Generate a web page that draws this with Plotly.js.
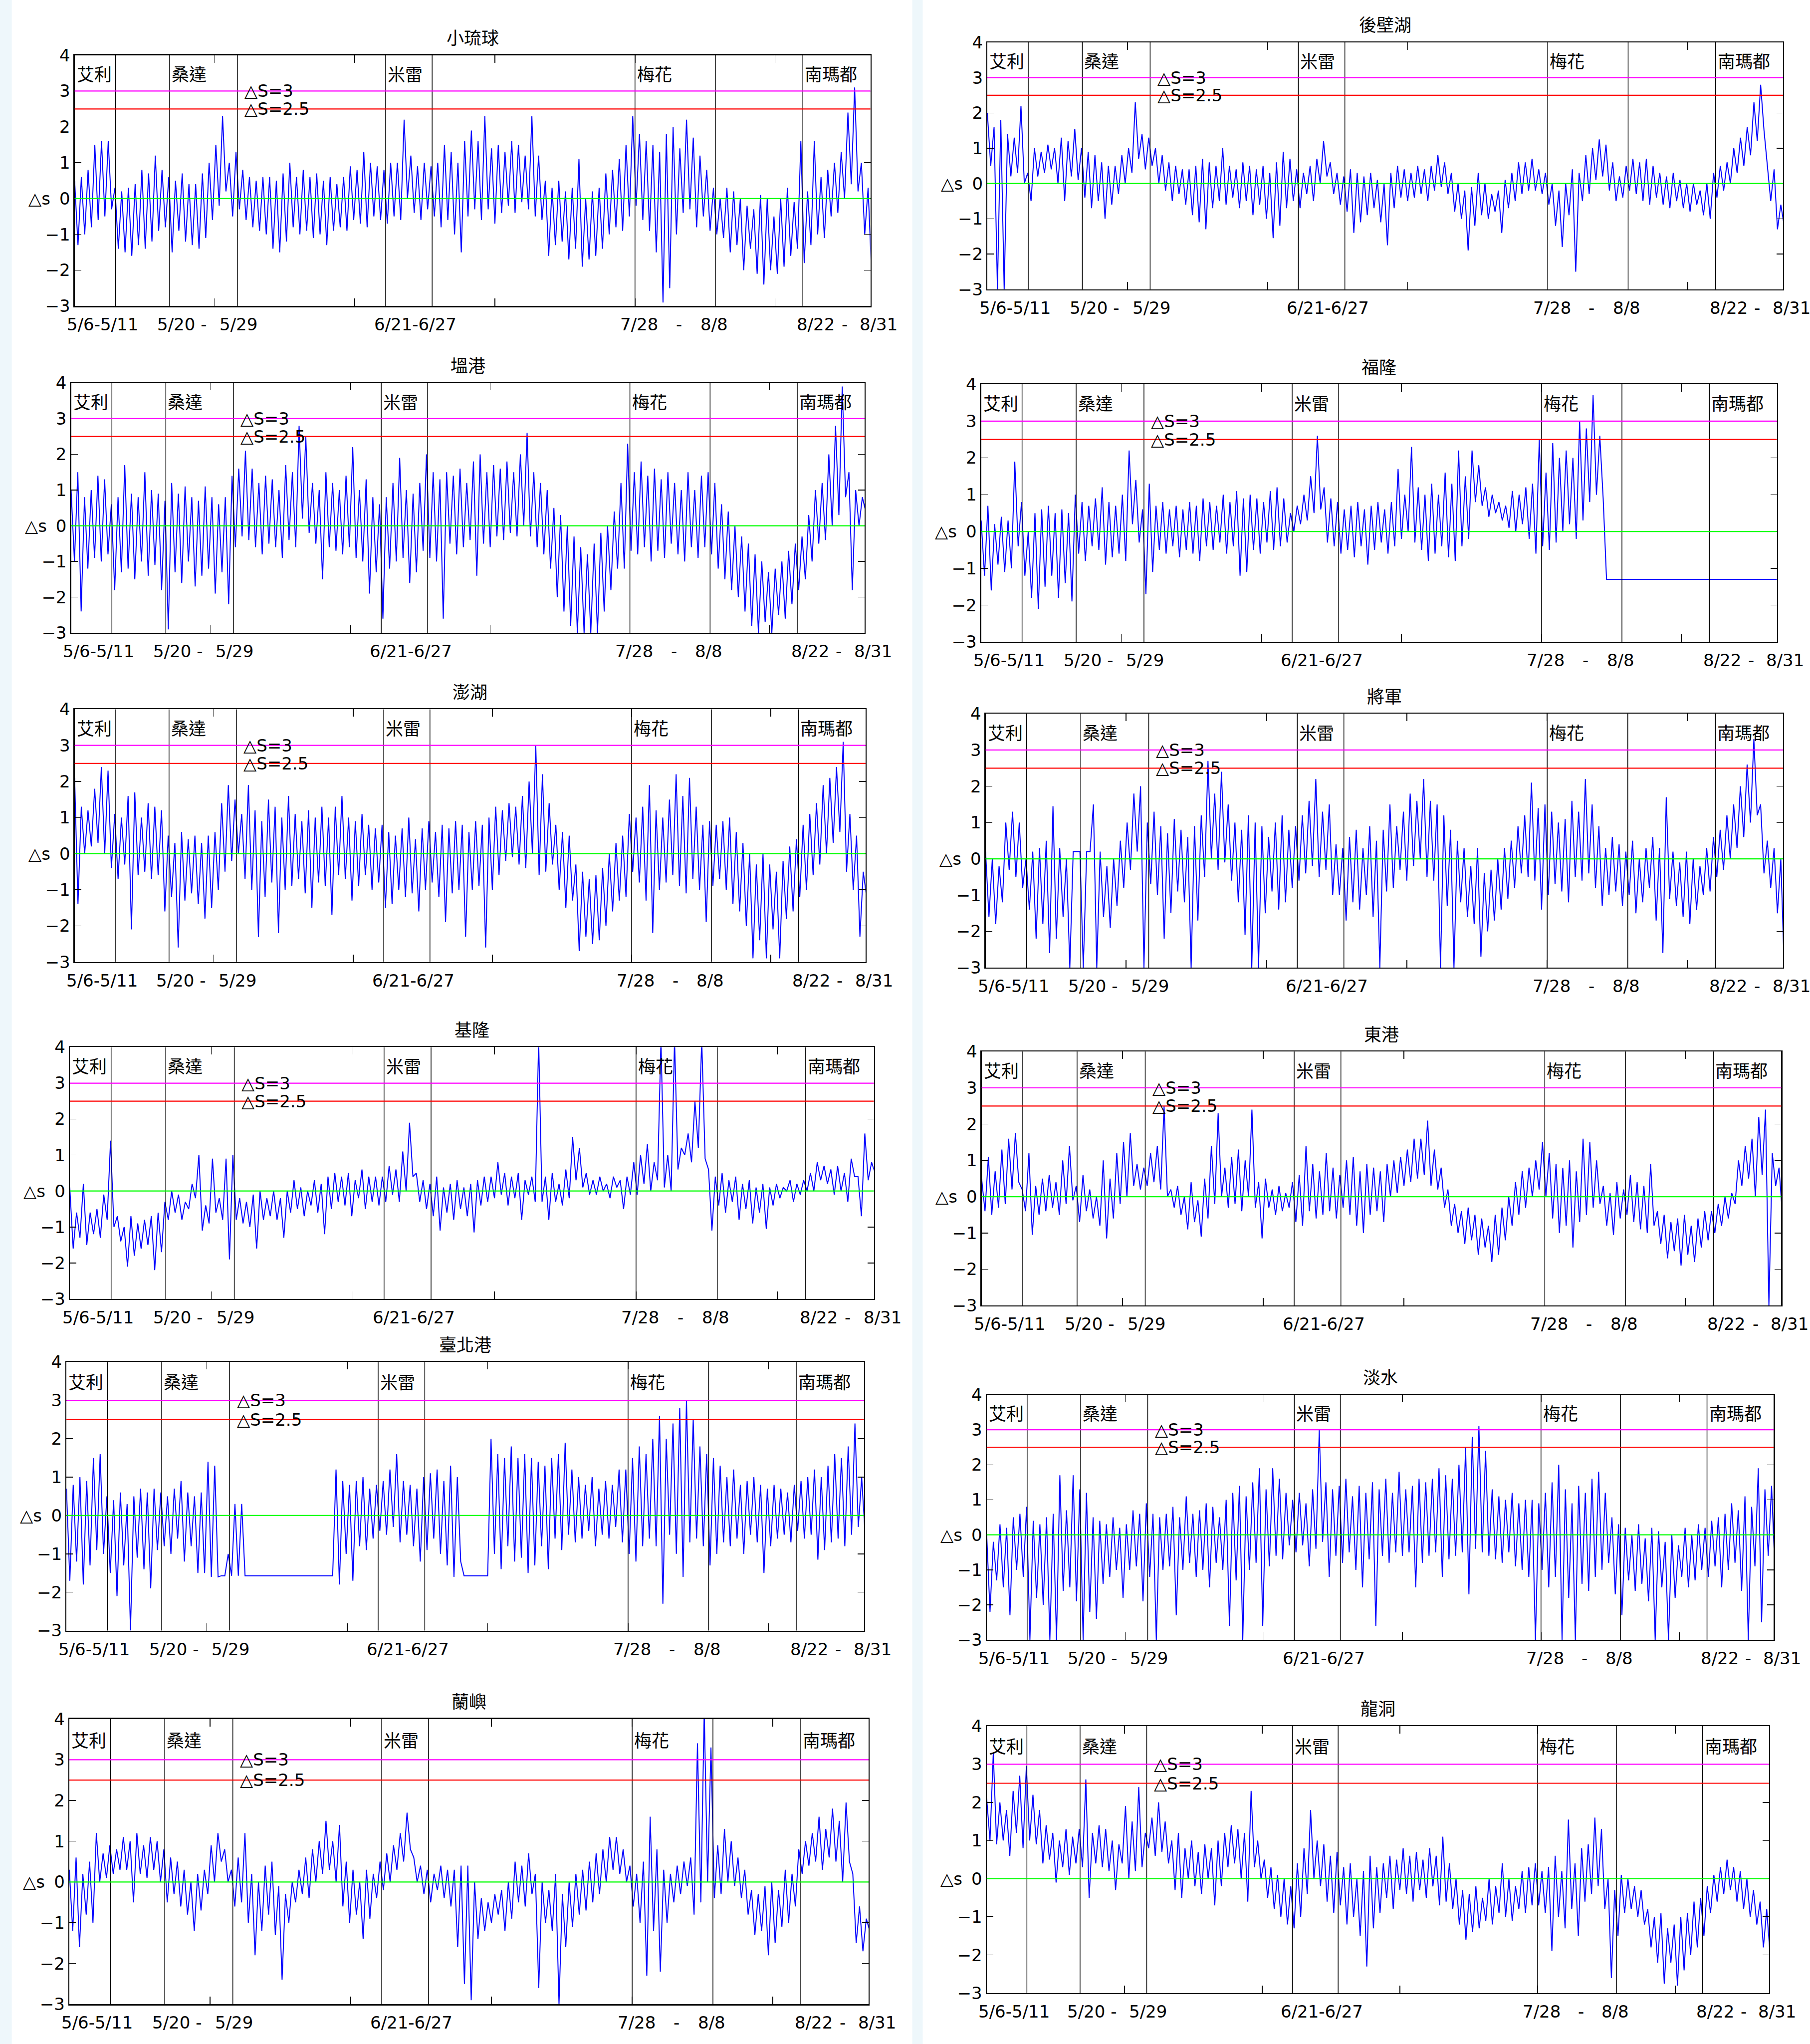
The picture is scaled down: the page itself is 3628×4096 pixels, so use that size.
<!DOCTYPE html>
<html><head><meta charset="utf-8">
<script src="https://cdn.plot.ly/plotly-3.0.1.min.js"></script>
<style>html,body{margin:0;padding:0;background:#fff}#chart{width:3628px;height:4096px}</style>
</head><body><div id="chart"></div>
<script>
// ---------- data ----------
const stations = ['小琉球','後壁湖','塭港','福隆','澎湖','將軍','基隆','東港','臺北港','淡水','蘭嶼','龍洞'];
const typhoonNames = ['艾利','桑達','米雷','梅花','南瑪都'];
const typhoonNameHours = [0, 339, 1110, 2000, 2599];
const periodLineHours = [146, 339, 581, 1110, 1276, 2000, 2287, 2599];
const tickLabelText = ['5/6-5/11','5/20 -','5/29','6/21-6/27','7/28','-','8/8','8/22','-','8/31'];
const tickLabelHours = [99, 382, 585, 1216, 2015, 2157, 2282, 2645, 2748, 2870];
const axisTickHours = [500, 1000, 1500, 2000, 2500];
const axisRangeHours = [0, 2840];
const thresholdValues = [3, 2.5, 0];
const thresholdLabels = ['△S=3', '△S=2.5'];
const thresholdLabelHour = 603;
const hoursPerSample = 24;   // one daily high + one daily low

const xiaoliuqiuHigh = [0.5,0.6,0.8,1.5,1.6,1.6, 0.3,0.2,0.3,0.4, 0.8,0.7,1.2,0.8, 0.6,0.5,0.7,0.4,0.4,0.7, 1.0,1.5,2.3, 1.0,1.3, 0.8,0.6,0.5,0.6,0.6, 0.5,0.7,1.0,0.6,0.8,0.6, 0.7,0.5,0.6,0.4, 0.6,0.9,0.8,1.3,1.0,0.9, 0.8,1.0,1.0,2.2, 1.2,0.9,1.0,0.9,1.0, 1.5,1.3,1.0,1.6,1.9, 1.6,2.3,1.4,1.5,1.3, 1.6,1.5,1.2,2.3,1.2, 0.5,0.3,0.5,0.2,0.3, 1.1,0.0,0.2,0.3,0.7, 0.8,1.1,1.5, 2.3,1.8,1.6,1.5,1.3, 1.8,2.0,1.4,2.2,1.7, 1.2,0.8, 0.3,0.0,0.3,0.2,0.0, -0.2,-0.3,0.1,0.0,-0.5, 0.0,0.3,-0.1,1.6,0.2, 1.6,0.6,0.8,1.0,1.3, 2.4,3.1,1.0,0.3];
const xiaoliuqiuLow = [-1.3,-1.0,-0.8,-0.6,-0.5,-0.3, -1.4,-1.5,-1.6,-1.3, -1.4,-1.2,-0.9,-0.8, -1.5,-0.9,-1.2,-1.3,-1.4,-1.1, -0.6,-0.2,0.2, -0.5,-0.3, -0.6,-0.8,-0.9,-1.0,-1.4, -1.5,-1.2,-0.8,-1.0,-0.9,-1.1, -1.0,-1.3,-0.9,-0.8, -0.9,-0.6,-0.7,-0.8,-0.5,-0.6, -0.7,-0.5,-0.6,0.0, -0.4,-0.6,-0.3,-0.5,-0.8, -0.6,-1.0,-1.5,-0.5,-0.3, -0.6,-0.3,-0.7,-0.4,-0.2, -0.4,-0.1,-0.3,-0.5,-0.6, -1.6,-1.3,-1.2,-1.7,-1.4, -1.9,-1.7,-1.6,-1.4,-1.0, -0.8,-0.9,-0.5, -0.2,-0.6,-0.9,-1.5,-2.9, -2.5,-1.0,-0.4,-0.3,-0.8, -0.5,-0.9, -1.0,-1.1,-1.5,-1.3,-2.0, -1.4,-2.1,-2.4,-2.0,-2.1, -1.9,-1.6,-1.4,-1.8,-1.3, -1.0,-1.1,-0.5,-0.4,0.0, 0.4,0.2,-1.0,-2.0];

const houbihuHigh = [2.0,1.6,1.8,1.4,1.3,2.2, 0.3,1.0,0.9,1.1, 1.0,1.3,1.2,1.55, 1.0,0.9,0.8,0.6,0.5,0.5, 0.8,1.0,2.3, 1.4,1.3,1.0, 0.8,0.6,0.5,0.4, 0.4,0.5,0.7,0.6,0.5, 1.0,0.5,0.4,0.6,0.5, 0.4,0.5,0.3,0.6,0.9,0.7, 0.4,0.3,0.5,0.7,1.2,0.6, 0.3,0.2,0.4,0.3,0.2,0.3,0.1,0.0, 0.3,0.5,0.4,0.3,0.5,0.4,0.5,0.8,0.6,0.3, 0.0,-0.2,-0.1,0.3,0.0,-0.3,-0.2,0.1, 0.3,0.6,0.6,0.7,0.4, 0.3,0.0,-0.2,0.0,0.4, 0.3,0.8,1.0,1.25,1.1, 0.6,0.2, 0.5,0.7,0.6,0.7,0.5, 0.3,0.2,0.3,0.1,0.0,0.0,-0.2,0.0, 0.3,0.5,0.6,1.0, 1.3,1.6,2.3,2.8, 0.5,0.4,-0.6];
const houbihuLow = [0.5,-3.0,-3.0,0.2,0.3,0.0, -0.5,0.2,0.3,0.4, 0.0,-0.5,0.2,0.1, -0.4,-0.7,-0.5,-1.0,-0.6,-0.3, 0.0,0.3,0.7, 0.4,0.5,0.0, -0.2,-0.5,-0.3,-0.6, -0.9,-1.1,-1.3,-0.7,-0.5, -0.6,-0.4,-0.7,-0.5,-0.9, -0.6,-1.0,-1.55,-1.2,-0.7,-0.5, -0.7,-0.3,-0.5,0.0,0.2,-0.3, -0.6,-0.8,-1.4,-1.1,-0.9,-0.7,-1.1,-1.75, -0.7,-0.4,-0.5,-0.4,-0.3,-0.5,-0.2,-0.1,-0.3,-0.8, -1.0,-1.9,-1.2,-0.9,-1.0,-0.8,-1.4,-0.7, -0.5,-0.3,-0.2,-0.2,-0.3, -0.6,-1.2,-1.8,-0.9,-2.5, -0.5,-0.3,0.1,0.2,-0.2, -0.5,-0.4, -0.2,-0.3,-0.5,-0.6,-0.4, -0.6,-0.7,-0.5,-0.7,-0.8,-0.6,-0.9,-1.0, -0.4,-0.2,0.0,0.3, 0.5,0.8,1.2,1.5, -0.5,-1.3,-1.2];

const wengangHigh = [1.0,1.5,0.8,1.0,1.4,1.3, 0.6,0.8,1.7,0.9, 0.8,1.5,1.0,0.9, 0.7,1.2,0.9,1.1,0.8,0.7, 1.1,0.8,0.6,0.8, 1.4,1.6,2.1,1.6,1.2,1.4, 1.3,1.0,1.7,1.5,2.8,2.5, 1.2,1.0,1.5,1.2,1.0,1.4, 2.2,1.0,1.3,0.8, 0.6,0.8,1.2,1.9,1.0,0.9, 1.2,2.0,1.5,1.3,1.5,1.4, 1.6,1.2,1.8,2.0,1.5,1.7, 1.6,1.8,1.5,2.0,2.6,1.5, 1.2,1.0,0.5,0.3,0.0,-0.3, -0.6,-0.8,-0.5,-0.2,0.0,0.4, 1.2,2.3,1.5,1.8,1.4,1.6,1.3,1.5, 1.2,1.0,1.5,1.0,1.4,1.5, 1.2,0.6,0.4,0.0,-0.3,-0.5, -0.8,-1.0,-1.3,-1.2,-1.0,-0.7,-0.5,-0.3, 0.3,1.0,1.2,2.0,2.8,3.9, 1.5,1.0,0.8];
const wengangLow = [-1.0,-2.4,-1.2,-0.9,-1.0,-0.8, -1.8,-1.3,-1.2,-1.5, -1.0,-1.4,-1.1,-1.8, -2.9,-1.3,-1.6,-1.0,-1.7,-1.4, -1.2,-1.9,-1.3,-2.2, -0.6,-0.3,-0.4,-0.6,-0.8,-0.5, -0.6,-0.9,-0.4,-0.6,0.2,-0.2, -0.5,-1.5,-0.6,-0.7,-0.8,-0.6, -0.9,-1.0,-1.9,-1.3, -2.6,-1.2,-1.0,-0.9,-1.6,-1.3, -0.7,-0.9,-1.0,-2.6,-0.5,-0.8, -0.6,-0.4,-1.4,-0.5,-0.6,-0.3, -0.4,-0.2,-0.3,0.0,-0.3,-0.6, -0.8,-1.2,-2.0,-2.4,-2.8,-3.0, -3.0,-3.0,-3.0,-2.4,-1.8,-1.2, -1.2,-0.7,-0.8,-0.6,-1.0,-0.7,-0.9,-0.5, -0.8,-1.0,-0.6,-0.9,-0.6,-0.8, -1.2,-1.5,-1.8,-2.0,-2.4,-2.8, -3.0,-2.7,-3.0,-2.5,-2.6,-2.2,-1.8,-1.5, -1.0,-0.5,-0.4,0.0,0.3,0.8, -1.8,0.0,0.4];

const fulongHigh = [0.3,0.7,0.2,0.4,0.3,1.9, 0.8,0.0,0.5,0.6, 0.7,0.5,0.6,0.5, 1.0,0.8,0.7,0.9,1.2,0.8, 0.7,1.0,2.2,1.4, 0.6,1.3,0.7,0.8, 0.6,0.7,0.6,0.8,0.7,0.9, 0.8,0.7,1.0,0.8,1.1,0.9, 1.0,0.9,0.8,1.1,1.2,0.9, 0.5,0.7,1.0,1.5,2.6,1.2, 0.9,0.8,0.6,0.7,0.8,0.6, 0.7,0.8,0.6,0.8, 1.7,1.0,2.3,1.2,1.0,1.3, 1.0,1.6,1.3,2.2,1.5, 2.2,1.8,1.2,1.0,0.8, 0.7,1.1,1.0,1.2, 1.3,2.5,1.6,2.4,2.0,2.2, 2.0,3.0,2.8,3.7, 2.6, -1.3,-1.3,-1.3,-1.3,-1.3,-1.3,-1.3,-1.3,-1.3,-1.3,-1.3,-1.3,-1.3,-1.3,-1.3,-1.3,-1.3,-1.3,-1.3,-1.3,-1.3,-1.3,-1.3,-1.3,-1.3,-1.3];
const fulongLow = [-1.2,-1.6,-0.9,-1.1,-1.0,-0.4, -1.2,-1.8,-2.1,-1.5, -1.2,-1.8,-1.4,-1.9, -0.6,-0.8,-0.4,-0.5,-0.9,-0.7, -0.6,-0.8,0.2,-0.3, -1.7,-1.1,-0.5,-0.6, -0.4,-0.7,-0.5,-0.6,-0.8,-0.4, -0.5,-0.3,-0.6,-0.4,-1.2,-1.1, -0.5,-0.6,-0.3,-0.5,-0.4,-0.3, 0.0,0.2,0.3,0.5,0.6,-0.3, -0.4,-0.6,-0.5,-0.7,-0.4,-0.9, -0.5,-0.3,-0.6,-0.4, -0.2,0.0,-0.3,-0.5,-0.8,-0.6, -0.4,-0.7,-0.8,-0.4,-0.2, 0.8,0.7,0.4,0.5,0.3, 0.1,0.0,0.2,-0.2, -0.6,-0.4,-0.5,-0.3,0.0,0.2, -0.2,0.3,0.8,1.0, 0.9, -1.3,-1.3,-1.3,-1.3,-1.3,-1.3,-1.3,-1.3,-1.3,-1.3,-1.3,-1.3,-1.3,-1.3,-1.3,-1.3,-1.3,-1.3,-1.3,-1.3,-1.3,-1.3,-1.3,-1.3,-1.3,-1.3];

const penghuHigh = [2.1,1.3,1.2,1.8,2.4,2.3, 1.1,1.0,1.6,1.7, 1.0,1.4,1.3,1.2, 0.5,0.3,0.6,0.4,0.5,0.3, 0.5,0.6, 1.4,1.9,1.5,1.1, 1.9,1.2,0.9,1.5,1.3,1.0, 1.6,1.1,0.9,1.2,1.0,1.3, 1.0,1.3,1.6,1.0,0.9,1.1,0.8,0.7, 0.8,0.6,0.5,0.7,1.0,0.4, 0.7,0.9,0.6,0.8,0.7,0.9, 0.8,0.6,0.9,0.8,1.0,1.3, 1.2,1.4,1.3,1.6,2.0,3.0,2.2,1.4, 0.8,0.6,0.5, -0.3,-0.5,-0.7,-0.6,-0.4,0.0,0.3,0.5, 1.1,1.0,1.3,1.9,1.2,1.0, 1.5,2.2,1.6,2.1,1.3,0.8, 0.9,0.8,0.9,1.0,0.6,0.3,0.0, -0.3,0.0,-0.3,-0.5,-0.2,0.2, 0.4,0.8,1.1,1.4,1.9,2.1,2.4, 3.1,1.1,0.5,-0.5];
const penghuLow = [-1.4,0.0,0.2,0.3,0.0,-0.4, -0.7,-0.3,-2.1,-0.6, -0.5,-0.7,-0.6,-1.6, -1.2,-2.6,-1.3,-1.1,-1.4,-1.8, -1.5,-1.0, -0.5,-0.2,0.0,-0.7, -1.0,-2.3,-1.2,-0.8,-2.2,-1.0, -0.9,-0.7,-1.1,-1.5,-0.8,-0.9, -1.7,-0.6,-0.7,-1.3,-0.9,-0.6,-1.0,-0.8, -1.5,-1.4,-1.0,-1.2,-1.1,-1.6, -1.0,-0.8,-1.2,-1.9,-1.1,-1.0, -2.3,-1.0,-0.9,-2.6,-1.0,-0.6, -0.2,-0.1,-0.3,-0.4,0.0,-0.6,-0.5,-0.3, -1.0,-1.5,-1.3, -2.7,-2.3,-2.5,-2.4,-2.0,-1.6,-1.3,-1.2, -0.5,-0.8,-1.3,-2.2,-1.0,-0.8, -0.6,-0.9,-1.1,-0.7,-1.0,-1.9, -0.9,-0.7,-1.0,-1.4,-1.6,-2.0,-2.9, -2.4,-2.9,-2.1,-2.9,-1.8,-1.6, -1.2,-1.0,-0.6,-0.3,0.0,0.3,0.6, -0.5,-1.0,-2.3,-1.2];

const jiangjunHigh = [0.2,0.0,-0.2, 1.0,1.3,1.0, 0.0,0.2,0.3,0.5,1.45,0.3,0.0, 0.2,0.2,0.2,1.5, 0.2,-0.2,0.0,0.5,1.0, 1.8,2.0, 1.0,1.3,0.9,0.7,1.1,0.8,0.6,0.9,1.2, 2.7,1.8,2.4,1.5, 1.0,0.8,1.2,1.0,0.9,0.6,1.0,1.2,0.8, 0.9,1.2,1.6,2.2,1.3,1.5, 0.4,0.3,0.6,0.8,0.3,0.9,0.5,0.8, 1.5,0.9,1.3,1.8,1.6,2.2,1.6,1.5,1.2,0.8, 0.5,0.3,-0.2,0.3,-0.4,-0.3,0.0,0.3,0.5,0.9, 1.2,2.1,1.4,1.5,1.3,1.0,1.1,1.6,1.3,2.2,1.5,0.9, 0.3,0.6,0.4,0.2,0.5,0.0,0.3,0.6,0.3,1.7,0.2,-0.1,0.2,0.0,-0.2, 0.3,0.6,0.8,1.2,1.5,2.0,2.6, 3.3,1.5,0.5,0.3,0.0];
const jiangjunLow = [-1.6,-1.8,-1.2, -0.3,-0.5,-0.8, -1.4,-2.2,-1.8,-2.6,-2.2,-1.6,-3.0, 0.2,-3.0,0.2,-3.0, -1.6,-1.9,-1.3,-0.8,-0.3, 0.2,-3.0, -0.7,-1.0,-2.2,-1.5,-0.9,-1.2,-3.0,-1.7,-0.5, 0.0,-0.3,-0.1,-0.6, -1.2,-2.1,-3.0,-3.0,-1.5,-0.9,-1.4,-1.2,-0.8, -0.6,-0.4,-0.2,-0.5,-0.3,-1.0, -1.0,-1.7,-1.2,-1.4,-1.0,-1.6,-3.0,-0.9, -0.8,-0.3,-0.6,-0.2,0.0,-0.5,-0.6,-3.0,-1.3,-3.0, -1.2,-1.6,-1.8,-2.7,-2.0,-1.7,-1.4,-1.1,-0.8,-0.4, -0.5,-0.6,-1.4,-1.0,-0.7,-0.9,-1.2,-0.5,-0.6,-0.4,-0.8,-1.3, -1.0,-0.9,-1.3,-1.0,-1.5,-1.2,-0.8,-1.7,-2.6,-1.1,-1.3,-1.6,-1.8,-1.4,-1.0, -0.9,-0.5,-0.3,0.0,0.3,0.6,1.0, 1.2,-0.4,-0.8,-1.5,-3.0];

const keelungHigh = [0.1,-0.6,0.2,-0.6,-0.5,-0.1, 1.4, -0.7,-1.0,-0.7,-0.9,-0.8,-0.7,-0.6, -0.3,0.0,-0.1,-0.3,0.2, 1.0,-0.4,0.9,-0.2,0.9, 1.0,-0.2,-0.3,-0.1,0.0,-0.2, 0.0,-0.2,0.0,0.3,0.1,0.0,0.3,0.2, 0.4,0.5,0.4,0.5,0.3,0.6,0.4,0.4, 0.4,0.7,0.6,1.1,1.9, 0.5,0.3,0.2,0.4,0.1,0.2,0.3,0.1,0.2,0.3,0.4, 0.4,0.8,0.5,0.4,0.5,0.3,0.4, 4.2, 0.4,0.5,0.2,0.6, 1.5,1.2,0.5, 0.3,0.4,0.2,0.4,0.3,0.4, 0.8,1.0,1.3,0.8,4.2,1.0,4.2,1.2,1.6,2.5,4.2, 0.6,0.4,0.5,0.3,0.4,0.2,0.3,0.1,0.2,0.1, 0.2,0.1,0.3,0.2,0.3, 0.5,0.8,0.7,0.6,0.7,0.5,0.9,0.4,1.6,0.8];
const keelungLow = [-1.6,-1.3,-1.5,-1.2,-1.3,-0.8, -1.0, -1.4,-2.1,-1.8,-1.6,-1.5,-2.2,-1.7, -0.8,-0.6,-0.8,-0.5,-0.2, -1.1,-0.9,-0.6,-0.8,-1.9, -0.8,-0.9,-1.0,-1.6,-0.8,-0.7, -0.8,-1.3,-0.6,-0.5,-0.7,-0.4,-0.6,-1.2, -0.5,-0.3,-0.4,-0.7,-0.2,-0.5,-0.3,-0.4, -0.3,-0.1,-0.3,0.0,0.4, -0.3,-0.5,-0.7,-1.1,-0.6,-0.8,-0.5,-0.7,-1.15,-0.4,-0.3, -0.2,-0.1,-0.4,-0.2,-0.8,-0.1,-0.3, -0.3, -0.8,-0.3,-0.4,-0.2, 0.3,0.1,-0.1, -0.1,0.0,-0.2,0.1,-0.5,-0.1, -0.1,0.2,0.0,0.3,0.1,0.0,0.6,1.0,0.8,1.2,0.9, -1.1,-0.4,-0.6,-0.3,-0.8,-0.5,-0.9,-0.6,-1.05,-0.4, -0.2,0.0,-0.3,-0.1,0.0, 0.0,0.3,0.2,-0.1,0.0,-0.3,0.4,-0.7,0.3,0.5];

const donggangHigh = [0.5,1.1,0.7,1.3,1.6,1.75, 0.2,1.2,0.3,0.5,0.6,0.4,1.0,1.4, 0.3,0.6,0.2,0.0,1.0,0.5, 1.2,1.5,1.75,0.9, 0.8,1.2,1.4,2.5, 0.2,0.3,0.0,0.4,-0.1,0.5, 1.4,2.3,0.8,1.1,1.3,1.0, 2.4,0.4,0.5,0.2,0.3,0.1, 0.4,0.6,1.4,0.9,0.7,1.2, 0.8,0.6,1.0,1.1,0.7,0.9,0.8,0.7, 0.9,1.0,1.1,1.3,1.6,1.6,2.1,1.3, 0.8,0.2,-0.2,-0.4,-0.3, -0.5,-0.6,-0.8,-0.5,-0.3, 0.0,0.4,0.7,0.8,1.0, 1.5,1.2,0.9,0.8,1.0,0.7,1.6,1.5,1.0, 0.3,0.1,0.4,0.2,0.6,0.4,0.3,0.9, -0.4,-0.5,-0.7,-0.6,-0.5,-0.8,-0.6,-0.4, -0.4,-0.2,0.0,0.1, 1.0,1.4,1.6,2.2, 2.4,1.2,0.8];
const donggangLow = [-0.4,-0.5,-0.3,-0.2,0.2,0.4, -0.4,-1.05,-0.5,-0.4,-0.3,-0.5,-0.2,-0.1, -0.7,-0.4,-0.6,-0.8,-1.15,-0.6, -0.2,0.0,0.3,0.2, 0.3,0.4,0.2,0.0, -0.3,-0.5,-0.9,-0.7,-1.1,-0.6, -0.2,0.0,-0.3,-0.2,-0.4,0.0, -0.3,-1.15,-0.3,-0.5,-0.4,-0.3, -0.7,-0.8,-0.4,-0.6,-0.5,-0.4, -0.6,-0.3,-0.5,-0.8,-1.0,-0.5,-0.4,-0.7, 0.0,0.1,0.3,0.4,0.5,0.6,0.3,0.2, -0.3,-0.8,-1.0,-1.3,-1.2, -1.6,-1.4,-1.8,-1.6,-1.2, -0.8,-0.5,-0.3,0.0,0.2, 0.0,-0.6,-1.0,-0.8,-1.4,-0.7,-0.5,-0.3,-0.2, -0.8,-1.05,-0.6,-0.5,-0.7,-0.9,-1.0,-0.8, -1.3,-1.7,-1.5,-1.9,-1.6,-1.8,-1.4,-1.2, -1.0,-0.8,-0.6,-0.2, 0.3,0.5,0.0,0.6, -3.0,0.3,-0.5];

const taipeiPortHigh = [0.7,0.8,1.0,0.9,1.5,1.6, 0.5,0.4,0.6,0.3,0.5,0.7,0.6,0.7, 0.6,0.5,0.7,0.9,0.6,0.5,0.6, 1.4,1.3, -1.57,-1.0,0.3,0.3,-1.57,-1.57,-1.57,-1.57,-1.57,-1.57,-1.57,-1.57,-1.57,-1.57,-1.57,-1.57,-1.57, 1.2,0.9,0.8,0.9,1.0,0.7, 0.8,0.9,1.2,1.6,0.9, 0.8,0.7,1.0,1.1,1.2,0.9,1.3,1.0, -1.57,-1.57,-1.57,-1.57, 2.0,1.6,1.5,1.8,1.5,1.6,1.5, 1.4,1.3,1.5,1.6,1.9,1.2,1.0,0.8,1.0,0.7,0.9,0.8,1.2, 1.2,1.5,1.8,1.6,2.0,2.6,2.0,2.4,2.8,3.0,2.5,1.8, 1.6,1.5,1.3,1.0,1.2,0.8,0.9,1.0,0.8,0.7,0.8,0.7,0.6, 0.8,0.9,1.0,1.2,1.0,1.3,1.6,1.5,1.8,2.4, 1.0];
const taipeiPortLow = [-1.7,-1.2,-1.8,-1.3,-0.9,-1.0, -1.5,-2.1,-1.3,-3.0,-1.1,-1.4,-1.9,-0.9, -0.8,-1.0,-0.6,-1.2,-0.8,-1.5,-1.5, -1.6,-1.6, -1.57,-1.57,-1.57,-1.57,-1.57,-1.57,-1.57,-1.57,-1.57,-1.57,-1.57,-1.57,-1.57,-1.57,-1.57,-1.57,-1.57, -1.8,-1.0,-1.7,-0.8,-0.9,-0.6, -0.4,-0.5,-0.3,-0.7,-0.5, -0.8,-1.2,-0.9,-0.6,-1.0,-1.3,-1.6,-1.2, -1.57,-1.57,-1.57,-1.57, -1.0,-1.4,-0.8,-1.2,-1.1,-1.5,-1.3, -0.8,-1.4,-0.6,-0.9,-0.5,-0.7,-0.6,-0.4,-0.8,-0.5,-0.6,-0.3,-0.7, -1.0,-1.2,-0.8,-0.6,-0.8,-2.3,-0.5,-1.0,-1.6,-0.7,-0.6,-0.8, -1.3,-1.0,-0.7,-0.8,-0.6,-1.0,-0.5,-0.7,-1.5,-0.8,-0.6,-0.5,-0.7, -0.4,-0.6,-0.5,-1.15,-0.9,-0.7,-0.6,-0.8,-0.5,-0.3, -0.5];

const tamsuiHigh = [0.0,-0.2,0.3,0.2,0.5,0.6, 0.8,0.4,0.3,0.5,0.6,1.7,0.7,1.7, 1.3,1.2,0.5,0.4,0.3,0.5,0.2,0.3,0.7,0.6, 0.9,0.6,0.5,0.6,0.8,0.5,1.1,0.6,0.7,0.9,0.8,0.5,1.0,1.2,1.4,1.1, 1.5,1.9,1.3,1.9,1.6,1.2, 1.0,1.2,0.9,1.3,3.0,1.5, 1.3,1.4,1.6,1.1,1.4,1.2,1.5,1.3,1.6,1.2, 1.8,1.3,1.4,1.6,1.5,1.6,1.9,1.7,1.6,2.0,2.5,2.8,3.1, 2.4,1.3,1.1,1.0,1.2,0.9,1.0,1.0, 0.9,1.2,1.5,2.0,1.3,0.9,1.4,1.2,1.6,1.8,1.2,0.5, 0.3,0.2,0.0,0.3,-0.1,0.2,0.1,-0.2,0.0,-0.3,0.2,0.0,0.3, 0.2,0.4,0.5,0.6,0.9,0.7,1.1,0.8,1.9,1.3,1.4];
const tamsuiLow = [-2.2,-1.3,-1.5,-2.3,-1.0,-1.2, -3.0,-1.8,-2.0,-3.0,-3.0,-1.6,-1.5,-1.9, -3.0,-2.2,-2.4,-1.4,-1.2,-1.0,-1.8,-1.0,-0.9,-1.9, -1.2,-3.0,-1.0,-0.9,-2.3,-1.0,-0.8,-1.2,-1.0,-1.5,-0.8,-1.0,-2.6,-1.3,-3.0,-1.0, -0.8,-2.6,-0.9,-0.6,-0.7,-0.3, -0.5,-0.3,-0.9,-0.4,-0.2,-1.2, -0.6,-0.8,-0.5,-1.0,-1.5,-0.7,-2.6,-0.6,-0.8,-0.5, -0.6,-0.5,-1.5,-0.8,-0.6,-0.5,-1.2,-0.7,-0.6,-0.5,-1.7,-0.4,-0.5, -0.6,-0.7,-0.8,-0.5,-0.9,-1.0,-1.2,-3.0, -1.0,-1.5,-1.2,-3.0,-1.8,-3.0,-1.4,-1.6,-1.2,-1.0,-0.8,-1.7, -2.3,-1.3,-1.6,-1.4,-1.9,-3.0,-1.5,-3.0,-1.8,-1.2,-1.5,-1.3,-1.0, -1.2,-0.9,-1.5,-1.0,-0.8,-1.6,-3.0,-0.9,-2.5,-0.6,-1.0];

const lanyuHigh = [0.3,0.6,0.2,0.5, 1.2,0.7,0.9,0.8, 1.1,1.0,1.2,0.9,1.1,1.0, 0.8,0.6,0.5,0.3,0.0,0.2, 0.3,0.9,1.2,0.8, 0.3,0.6,1.2,0.2,0.0,0.4, 0.5,-0.1,-0.3, 0.0,0.3,0.6,0.8,1.0,1.5,1.0, 1.4,0.5,0.3,0.0,0.3,0.2, 0.5,0.7,0.9,1.2,1.7, 0.6,0.4,0.3,0.2,0.4,0.3, 0.3,0.4,0.4,0.0,-0.4, -0.5,-0.3,-0.2,0.0,0.5,0.4,0.7, 0.2,0.0,-0.2,0.2,-0.3,0.0, 0.2,0.3,0.5,0.7,0.8,1.1,1.1,0.8, 0.4,0.2,0.5,1.6,0.8,0.3,0.2,0.4,0.5, 0.6,3.4,4.2,3.3, 0.9,1.3,1.0,0.6,0.3, -0.2,-0.3,-0.1,0.0,-0.2,0.3,0.2, 0.8,1.0,1.2,1.6,1.3,1.8, 1.5,1.95, 0.2,-0.6,-0.9];
const lanyuLow = [-1.2,-1.6,-0.8,-1.0, 0.0,0.1,0.2,0.3, 0.3,-0.5,0.2,0.1,0.3,0.0, -0.5,-0.3,-0.6,-0.8,-1.2,-0.7, -0.3,0.0,0.5,0.0, -0.6,-0.5,-1.0,-1.8,-1.2,-0.8, -1.3,-2.4,-1.0, -0.5,-0.3,-0.4,0.0,0.2,0.3,0.0, -0.6,-1.0,-0.8,-1.4,-0.9,-0.4, -0.2,0.0,0.3,0.5,0.8, 0.0,-0.3,-0.5,-0.2,-0.4,-0.6, -1.6,-2.5,-2.9,-1.4,-1.2, -1.0,-0.8,-1.2,-0.9,-0.5,-0.6,-0.3, -2.6,-1.0,-1.2,-3.0,-1.6,-1.1, -0.8,-0.7,-0.5,-0.3,0.0,0.3,0.2,0.0, -0.6,-1.0,-2.3,-1.2,-2.2,-1.0,-0.5,-0.3,-0.1, -0.8,-0.5,0.0,-0.4, -0.3,0.0,-0.1,-0.4,-0.8, -1.3,-1.2,-1.8,-1.5,-1.1,-1.0,-0.6, 0.2,0.4,0.5,0.3,0.6,0.5, 0.0,0.5, -1.5,-1.7,-1.2];

const longdongHigh = [2.1,3.3,2.0,1.8,2.3,2.7, 2.95,2.2,1.8,1.4, 1.2,1.0,1.3,1.1, 1.3,2.6,1.2,1.4,1.3,1.0, 0.9,1.9,1.5,2.4, 1.2,1.6,2.0,1.5, 1.0,1.2,0.8,1.0,0.7,0.9,0.8,1.0, 1.2,1.4,1.3,1.2,2.3,1.0, 0.5,0.3,0.1,0.0, -0.2,0.4, 0.8,1.8,1.0,0.9, 0.6,0.7,0.3,0.4,0.0,0.2,0.6,0.3, 0.4,0.6,0.5,0.8,0.6,0.7,0.5,0.8,0.6,1.1, 0.4,0.0,-0.3,-0.4,-0.2,-0.5,0.0,-0.2,0.4,0.0,-0.2,0.2,0.3, 0.4,0.2,0.3,0.6,0.2,1.55,0.4,0.8,0.9,1.6,1.3, 0.0,-0.3, 0.1,0.0,-0.2,-0.3, -0.8,-1.0,-0.9,-1.3,-1.2,-1.0,-0.9,-0.6, -0.5,-0.2,0.1,0.3,0.5, 0.3,0.2,0.0,-0.3,-0.6,-0.8];
const longdongLow = [1.0,0.9,1.0,0.6,1.2,0.8, 1.0,0.9,0.4,0.5, -0.1,0.3,0.1,0.4, 0.3,-0.5,0.4,0.3,0.2,-0.3, 0.4,0.0,0.2,0.3, 0.8,0.6,0.7,0.4, -0.3,-0.5,0.0,-0.2,-0.4,0.0,-0.7,-0.2, 0.3,0.4,0.0,-0.6,0.3,0.0, -0.5,-0.8,-1.0,-1.2, -1.3,-1.0, -0.4,0.0,-0.2,-0.6, -0.9,-0.7,-1.2,-1.0,-1.5,-2.3,-1.3,-0.9, -0.5,-0.8,-0.3,-0.4,-0.6,-0.3,-0.5,-0.2,-0.7,-0.6, -0.8,-1.2,-1.6,-1.4,-1.3,-1.1,-1.2,-0.9,-1.0,-1.1,-0.8,-0.9,-0.7, -0.7,-0.9,-1.9,-1.0,-1.3,-0.8,-1.5,-0.6,-0.4,-0.2,-0.8, -2.6,-1.5, -0.9,-0.8,-1.0,-1.2, -1.8,-2.2,-2.75,-2.2,-2.8,-2.4,-2.0,-1.8, -1.5,-0.9,-0.6,-0.4,-0.3, -0.6,-0.8,-1.0,-1.2,-1.8,-2.0];

const seriesHigh = [xiaoliuqiuHigh, houbihuHigh, wengangHigh, fulongHigh, penghuHigh, jiangjunHigh, keelungHigh, donggangHigh, taipeiPortHigh, tamsuiHigh, lanyuHigh, longdongHigh];
const seriesLow  = [xiaoliuqiuLow, houbihuLow, wengangLow, fulongLow, penghuLow, jiangjunLow, keelungLow, donggangLow, taipeiPortLow, tamsuiLow, lanyuLow, longdongLow];

// ---------- layout geometry (paper fractions) ----------
const panelDomains = [
  [0.04123,0.48085,0.85026,0.97299],[0.54550,0.98512,0.85847,0.97926],
  [0.03928,0.47768,0.69036,0.81266],[0.54208,0.98170,0.68593,0.81201],
  [0.04123,0.47817,0.52939,0.65298],[0.54452,0.98512,0.52658,0.65082],
  [0.03855,0.48280,0.36452,0.48768],[0.54233,0.98414,0.36128,0.48552],
  [0.03672,0.47731,0.20225,0.33362],[0.54513,0.98000,0.19771,0.31763],
  [0.03830,0.47987,0.01945,0.15903],[0.54513,0.97731,0.02485,0.15557]
];
const FONT = 'DejaVu Sans, "Noto Sans CJK TC", sans-serif';
const CJK = '"Noto Sans CJK TC", "DejaVu Sans", sans-serif';
const thresholdColors = ['#ff00ff', '#ff0000', '#00ff00'];
const spanHours = axisRangeHours[1] - axisRangeHours[0];

const traces = [];
const layout = {
  width: 3628, height: 4096, margin: {l:0, r:0, t:0, b:0},
  paper_bgcolor: '#ffffff', plot_bgcolor: '#ffffff', showlegend: false,
  font: {family: FONT, size: 34, color: '#000'},
  annotations: [], shapes: []
};
// faint screenshot borders
layout.shapes.push({type:'rect', xref:'paper', yref:'paper', x0:0, x1:0.0065, y0:0, y1:1, fillcolor:'#eef7fb', line:{width:0}, layer:'below'});
layout.shapes.push({type:'rect', xref:'paper', yref:'paper', x0:0.504, x1:0.5098, y0:0, y1:1, fillcolor:'#eef7fb', line:{width:0}, layer:'below'});

stations.forEach((name, i) => {
  const sx = i === 0 ? '' : String(i + 1);
  const xr = 'x' + sx, yr = 'y' + sx;
  const xs = [], ys = [];
  seriesHigh[i].forEach((v, d) => {
    xs.push(d * hoursPerSample); ys.push(v);
    xs.push(d * hoursPerSample + hoursPerSample / 2); ys.push(seriesLow[i][d]);
  });
  traces.push({type:'scatter', mode:'lines', x: xs, y: ys, xaxis: xr, yaxis: yr,
    line: {color:'#0000ff', width:2.0}, hoverinfo:'skip'});

  const dom = panelDomains[i];
  layout['xaxis' + sx] = {domain:[dom[0], dom[1]], anchor: yr, range: axisRangeHours,
    tickmode:'array', tickvals: axisTickHours, ticks:'inside', ticklen:15, tickwidth:1.5, tickcolor:'#000',
    showticklabels:false, showline:true, linecolor:'#000', linewidth:2.2, mirror:'ticks',
    showgrid:false, zeroline:false, fixedrange:true};
  layout['yaxis' + sx] = {domain:[dom[2], dom[3]], anchor: xr, range:[-3, 4],
    tickmode:'array', tickvals:[-3,-2,-1,0,1,2,3,4], ticks:'inside', ticklen:13, tickwidth:1.5, tickcolor:'#000',
    showticklabels:true, tickfont:{family:FONT, size:34, color:'#000'},
    showline:true, linecolor:'#000', linewidth:2.2, mirror:'ticks',
    showgrid:false, zeroline:false, fixedrange:true};

  periodLineHours.forEach(h => layout.shapes.push({type:'line', xref: xr, yref: yr + ' domain',
    x0:h, x1:h, y0:0, y1:1, line:{color:'#000', width:1.5}, layer:'above'}));
  thresholdValues.forEach((v, k) => layout.shapes.push({type:'line', xref: xr + ' domain', yref: yr,
    x0:0, x1:1, y0:v, y1:v, line:{color: thresholdColors[k], width:2.2}, layer:'above'}));

  layout.annotations.push({text: name, xref: xr + ' domain', x:0.5, yref: yr + ' domain', y:1,
    yshift:37, xanchor:'center', yanchor:'middle', showarrow:false, font:{family:CJK, size:35, color:'#000'}});
  layout.annotations.push({text:'△s', xref: xr + ' domain', x:0, xshift:-47, xanchor:'right',
    yref: yr, y:0, yanchor:'middle', showarrow:false, font:{family:FONT, size:34, color:'#000'}});
  typhoonNames.forEach((t, k) => layout.annotations.push({text: t, xref: xr, x: typhoonNameHours[k], xshift:2,
    xanchor:'left', yref: yr, y:3.5, yanchor:'middle', showarrow:false, font:{family:CJK, size:35, color:'#000'}}));
  thresholdLabels.forEach((t, k) => layout.annotations.push({text: t, xref: xr, x: thresholdLabelHour,
    xanchor:'left', yref: yr, y: thresholdValues[k], yanchor:'middle', showarrow:false,
    font:{family:FONT, size:34, color:'#000'}}));
  tickLabelText.forEach((t, k) => layout.annotations.push({text: t, xref: xr + ' domain',
    x: (tickLabelHours[k] - axisRangeHours[0]) / spanHours,
    xanchor:'center', yref: yr + ' domain', y:0, yshift:-37, yanchor:'middle', showarrow:false,
    font:{family:FONT, size:34, color:'#000'}}));
});

Plotly.newPlot('chart', traces, layout, {staticPlot:true, displayModeBar:false});
</script>
</body></html>
